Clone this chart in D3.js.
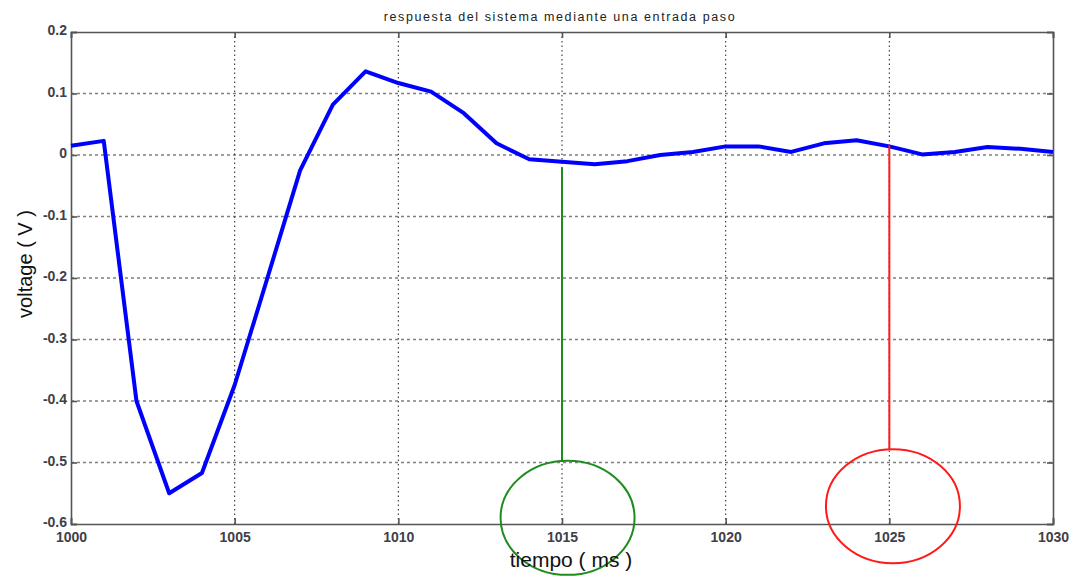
<!DOCTYPE html>
<html><head><meta charset="utf-8">
<script src="https://cdn.jsdelivr.net/npm/d3@7"></script>
<style>body{margin:0;background:#fff}svg{display:block}</style>
</head><body>
<svg id="c" width="1085" height="576"></svg>
<script>
const timeMs = d3.range(1000, 1031);
const voltage = [0.015, 0.023, -0.40, -0.55, -0.517, -0.374, -0.20, -0.025, 0.082, 0.136,
  0.117, 0.103, 0.068, 0.019, -0.007, -0.011, -0.015, -0.010, 0.000, 0.005,
  0.014, 0.014, 0.005, 0.019, 0.024, 0.014, 0.001, 0.005, 0.013, 0.010, 0.005];
const xTicks = [1000, 1005, 1010, 1015, 1020, 1025, 1030];
const yTicks = [0.2, 0.1, 0, -0.1, -0.2, -0.3, -0.4, -0.5, -0.6];
const markerX = [1015, 1025];
const markerTop = [-0.02, 0.016];
const markerBottom = [-0.499, -0.478];
const circleX = [1015.17, 1025.11];
const circleY = [-0.590, -0.571];
const markerColors = ["#1e8c1e", "#ff1a1a"];
const titleText = "respuesta del sistema mediante una entrada paso";
const xLabel = "tiempo ( ms )";
const yLabel = "voltage ( V )";

const svg = d3.select("#c");
const L = 71, R = 1053, T = 32, B = 524;
const x = d3.scaleLinear().domain([1000, 1030]).range([L, R]);
const y = d3.scaleLinear().domain([-0.6, 0.2]).range([B, T]);

// grid
svg.append("g").selectAll("line").data(yTicks.filter(v => v > -0.6 && v < 0.2)).join("line")
  .attr("x1", L).attr("x2", R).attr("y1", d => y(d)).attr("y2", d => y(d))
  .attr("stroke", "#808080").attr("stroke-width", 1.6).attr("stroke-dasharray", "3,3");
svg.append("g").selectAll("line").data(xTicks.filter(v => v > 1000 && v < 1030)).join("line")
  .attr("y1", T).attr("y2", B).attr("x1", d => x(d)).attr("x2", d => x(d))
  .attr("stroke", "#333").attr("stroke-width", 1.1).attr("stroke-dasharray", "1.5,3");

// frame and axes
const ax = svg.append("g").attr("font-family", "Liberation Sans, Arial, sans-serif");
const xb = ax.append("g").attr("transform", `translate(0,${B})`)
  .call(d3.axisBottom(x).tickValues(xTicks).tickSize(-6).tickPadding(8).tickFormat(d3.format("d")));
const xt = ax.append("g").attr("transform", `translate(0,${T})`)
  .call(d3.axisTop(x).tickValues(xTicks).tickSize(-6).tickFormat(""));
const yl = ax.append("g").attr("transform", `translate(${L},0)`)
  .call(d3.axisLeft(y).tickValues(yTicks).tickSize(-6).tickPadding(4)
    .tickFormat(d => d === 0 ? "0" : d3.format(".1f")(d).replace("\u2212", "-")));
const yr = ax.append("g").attr("transform", `translate(${R},0)`)
  .call(d3.axisRight(y).tickValues(yTicks).tickSize(-6).tickFormat(""));
ax.selectAll(".domain").attr("stroke", "#555").attr("stroke-width", 1.6);
ax.selectAll(".tick line").attr("stroke", "#555").attr("stroke-width", 1.6);
ax.selectAll(".tick text").attr("fill", "#40404a").attr("font-size", 14).attr("font-weight", "bold");
yl.selectAll(".tick text").attr("dy", "0.2em");

// data line
svg.append("path").datum(timeMs.map((t, i) => [t, voltage[i]]))
  .attr("fill", "none").attr("stroke", "#0000ff").attr("stroke-width", 4)
  .attr("stroke-linejoin", "round")
  .attr("d", d3.line().x(d => x(d[0])).y(d => y(d[1])));

// markers
markerX.forEach((m, i) => {
  svg.append("line").attr("x1", x(m)).attr("x2", x(m))
    .attr("y1", y(markerTop[i])).attr("y2", y(markerBottom[i]))
    .attr("stroke", markerColors[i]).attr("stroke-width", 2);
  svg.append("ellipse").attr("cx", x(circleX[i])).attr("cy", y(circleY[i]))
    .attr("rx", 67).attr("ry", 57).attr("fill", "none")
    .attr("stroke", markerColors[i]).attr("stroke-width", 2);
});

// texts
svg.append("text").attr("x", 560).attr("y", 21).attr("text-anchor", "middle")
  .attr("font-family", "Liberation Sans, Arial, sans-serif").attr("font-size", 12.5)
  .attr("letter-spacing", 1.6).attr("fill", "#222").text(titleText);
svg.append("text").attr("x", 571).attr("y", 567).attr("text-anchor", "middle")
  .attr("font-family", "Liberation Sans Narrow, Liberation Sans, Arial, sans-serif").attr("font-size", 21)
  .attr("fill", "#111").text(xLabel);
svg.append("text").attr("transform", "translate(32,264) rotate(-90)").attr("text-anchor", "middle")
  .attr("font-family", "Liberation Sans, Arial, sans-serif").attr("font-size", 20)
  .attr("fill", "#111").text(yLabel);
</script>
</body></html>
